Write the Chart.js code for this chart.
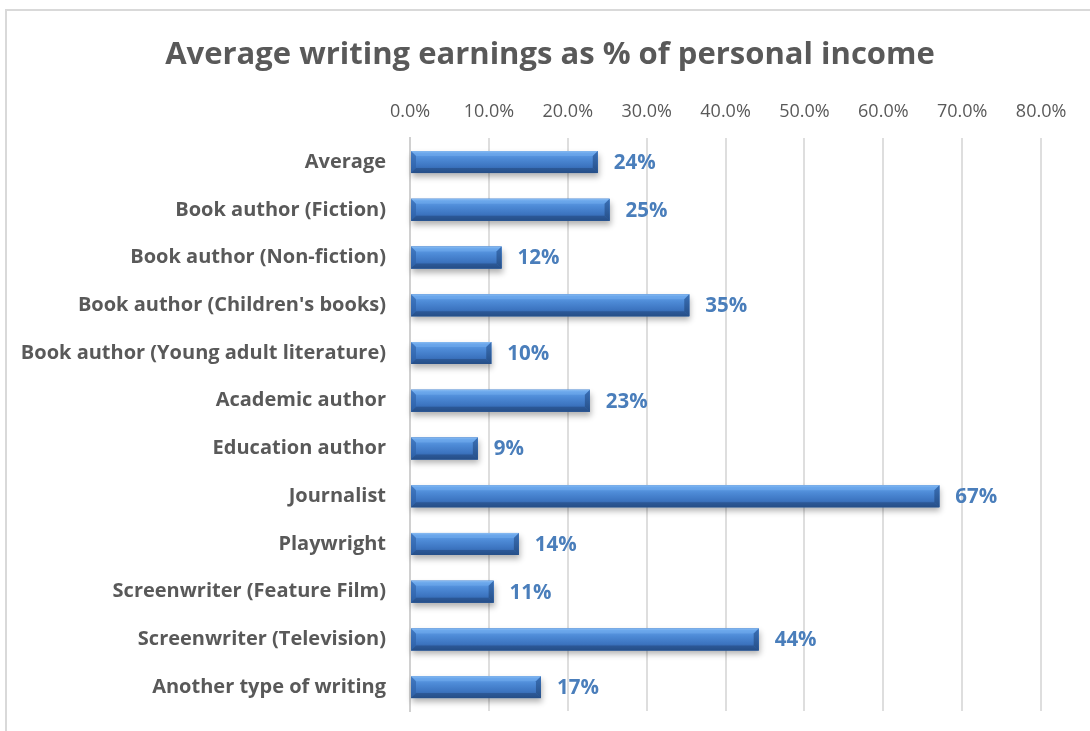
<!DOCTYPE html>
<html>
<head>
<meta charset="utf-8">
<script src="https://cdn.jsdelivr.net/npm/chart.js@4"></script>
<style>
  html, body { margin: 0; padding: 0; background: #fff; overflow: hidden; }
  #frame { position: absolute; left: 5px; top: 9px; width: 1200px; height: 800px; border: 2px solid #d9d9d9; }
  #chart { position: absolute; left: 0; top: 0; }
</style>
</head>
<body>
<div id="frame"></div>
<canvas id="chart" width="1090" height="731"></canvas>
<script>
// categories and values (% of personal income)
const categories = [
  'Average',
  'Book author (Fiction)',
  'Book author (Non-fiction)',
  "Book author (Children's books)",
  'Book author (Young adult literature)',
  'Academic author',
  'Education author',
  'Journalist',
  'Playwright',
  'Screenwriter (Feature Film)',
  'Screenwriter (Television)',
  'Another type of writing'
];
const earnings = [23.8, 25.3, 11.6, 35.4, 10.3, 22.8, 8.6, 67.1, 13.8, 10.6, 44.2, 16.6];
const xTicks = [0, 10, 20, 30, 40, 50, 60, 70, 80];

const FONT = '"Open Sans", sans-serif';

// bevel / shadow look for the bars, drawn over the library's bar elements
const bevelBars = {
  id: 'bevelBars',
  afterDatasetsDraw(chart) {
    const ctx = chart.ctx;
    const meta = chart.getDatasetMeta(0);
    meta.data.forEach(bar => {
      const { x, y, base, height } = bar.getProps(['x', 'y', 'base', 'height'], true);
      const L = base, R = x, T = y - height / 2, B = y + height / 2;
      const b = 5;
      ctx.save();
      // shadow
      ctx.shadowColor = 'rgba(0,0,0,0.3)';
      ctx.shadowBlur = 6;
      ctx.shadowOffsetY = 4;
      ctx.shadowOffsetX = 1;
      ctx.fillStyle = '#3b74bf';
      ctx.fillRect(L, T, R - L, B - T);
      ctx.restore();

      ctx.save();
      const g = ctx.createLinearGradient(0, T, 0, B);
      g.addColorStop(0, '#8cbcf0');
      g.addColorStop(0.1, '#5f9de6');
      g.addColorStop(0.35, '#4d8ad6');
      g.addColorStop(0.7, '#3c74c0');
      g.addColorStop(1, '#2b5a98');
      ctx.fillStyle = g;
      ctx.fillRect(L, T, R - L, B - T);

      // top strip
      ctx.fillStyle = 'rgba(130,185,245,0.35)';
      ctx.beginPath();
      ctx.moveTo(L, T); ctx.lineTo(R, T); ctx.lineTo(R - b, T + b); ctx.lineTo(L + b, T + b);
      ctx.closePath(); ctx.fill();
      // bottom strip
      ctx.fillStyle = 'rgba(30,65,115,0.45)';
      ctx.beginPath();
      ctx.moveTo(L, B); ctx.lineTo(R, B); ctx.lineTo(R - b, B - b); ctx.lineTo(L + b, B - b);
      ctx.closePath(); ctx.fill();
      // right cap
      const gr = ctx.createLinearGradient(0, T, 0, B);
      gr.addColorStop(0, '#3a70b6');
      gr.addColorStop(1, '#264f88');
      ctx.fillStyle = gr;
      ctx.beginPath();
      ctx.moveTo(R - b, T + b); ctx.lineTo(R, T); ctx.lineTo(R, B); ctx.lineTo(R - b, B - b);
      ctx.closePath(); ctx.fill();
      // left cap
      ctx.fillStyle = 'rgba(45,95,165,0.6)';
      ctx.beginPath();
      ctx.moveTo(L, T); ctx.lineTo(L + b, T + b); ctx.lineTo(L + b, B - b); ctx.lineTo(L, B);
      ctx.closePath(); ctx.fill();
      ctx.restore();
    });
  }
};

// value labels right of each bar
const valueLabels = {
  id: 'valueLabels',
  afterDatasetsDraw(chart) {
    const ctx = chart.ctx;
    const meta = chart.getDatasetMeta(0);
    ctx.save();
    ctx.font = 'bold 20.5px ' + FONT;
    ctx.fillStyle = '#4a7ebb';
    ctx.textAlign = 'left';
    ctx.textBaseline = 'middle';
    meta.data.forEach((bar, i) => {
      ctx.fillText(Math.round(earnings[i]) + '%', bar.x + 16, bar.y + 1);
    });
    ctx.restore();
  }
};

new Chart(document.getElementById('chart'), {
  type: 'bar',
  data: {
    labels: categories,
    datasets: [{
      data: earnings,
      backgroundColor: '#3f78c4',
      borderWidth: 0,
      barPercentage: 0.46,
      categoryPercentage: 1
    }]
  },
  options: {
    indexAxis: 'y',
    responsive: false,
    animation: false,
    layout: { padding: { left: 10, right: 0, top: 0, bottom: 20 } },
    plugins: {
      legend: { display: false },
      tooltip: { enabled: false },
      title: {
        display: true,
        text: 'Average writing earnings as % of personal income',
        color: '#595959',
        font: { family: FONT, size: 31, weight: 'bold' },
        padding: { top: 37, bottom: 0 }
      }
    },
    scales: {
      x: {
        position: 'top',
        min: 0,
        max: 86.2,
        afterBuildTicks(scale) { scale.ticks = xTicks.map(v => ({ value: v })); },
        ticks: {
          color: '#595959',
          font: { family: FONT, size: 18 },
          padding: 16,
          callback: v => v.toFixed(1) + '%'
        },
        grid: { color: '#dedede', lineWidth: 2, drawTicks: false },
        border: { display: false },
        afterFit(scale) { scale.height = 64; scale.paddingLeft = 0; scale.paddingRight = 0; }
      },
      y: {
        ticks: {
          color: '#595959',
          font: { family: FONT, size: 20, weight: 'bold' },
          padding: 24
        },
        grid: { display: false, drawTicks: false },
        border: { display: true, color: '#d0d0d0', width: 2 },
        afterFit(scale) { scale.width = 400; scale.paddingTop = 0; scale.paddingBottom = 0; }
      }
    }
  },
  plugins: [bevelBars, valueLabels]
});
</script>
</body>
</html>
